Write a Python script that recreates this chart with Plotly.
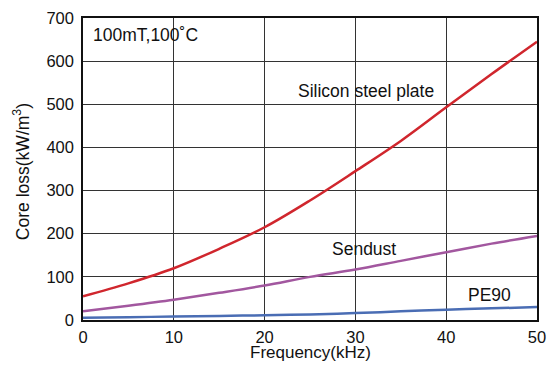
import plotly.graph_objects as go

freq = [0, 5, 10, 15, 20, 25, 30, 35, 40, 45, 50]
silicon = [55, 85, 120, 165, 215, 277, 345, 415, 493, 570, 645]
sendust = [20, 33, 47, 63, 80, 100, 117, 137, 157, 177, 195]
pe90 = [5, 6.5, 8, 9.5, 11, 13, 16, 20, 24, 27, 30]

x_ticks = [0, 10, 20, 30, 40, 50]
y_ticks = [0, 100, 200, 300, 400, 500, 600, 700]

font = "Liberation Sans, Arial, sans-serif"

fig = go.Figure()
fig.add_trace(go.Scatter(x=freq, y=silicon, mode="lines", line=dict(color="#d0262d", width=2.5, shape="spline")))
fig.add_trace(go.Scatter(x=freq, y=sendust, mode="lines", line=dict(color="#a2579f", width=2.5, shape="spline")))
fig.add_trace(go.Scatter(x=freq, y=pe90, mode="lines", line=dict(color="#4a6db4", width=2.5, shape="spline")))

annotations = [
    dict(x=0.85, y=661, text="100mT,100˚C", xanchor="left", yanchor="middle"),
    dict(x=31.2, y=530, text="Silicon steel plate", xanchor="center", yanchor="middle"),
    dict(x=30.9, y=165, text="Sendust", xanchor="center", yanchor="middle"),
    dict(x=44.8, y=58, text="PE90", xanchor="center", yanchor="middle"),
]
for a in annotations:
    a.update(xref="x", yref="y", showarrow=False, font=dict(family=font, size=17.5, color="#111"))

annotations.append(dict(xref="paper", yref="paper", x=0.5, y=-0.147, text="Frequency(kHz)",
                        showarrow=False, xanchor="center", yanchor="bottom",
                        font=dict(family=font, size=17, color="#111")))
annotations.append(dict(xref="paper", yref="paper", x=-0.135, y=0.492, text="Core loss(kW/m<sup>3</sup>)",
                        showarrow=False, xanchor="center", yanchor="middle", textangle=-90,
                        font=dict(family=font, size=17.5, color="#111")))

fig.update_layout(
    width=548, height=365,
    margin=dict(l=83, r=11, t=18, b=45),
    plot_bgcolor="white", paper_bgcolor="white",
    showlegend=False,
    font=dict(family=font, size=16.5, color="#111"),
    annotations=annotations,
    xaxis=dict(range=[0, 50], tickvals=x_ticks, showgrid=True, gridcolor="#333", gridwidth=1,
               showline=True, linecolor="#111", linewidth=1.5, mirror=True, zeroline=False,
               ticks="", tickfont=dict(size=16.5), automargin=False, ticklabelstandoff=1),
    yaxis=dict(range=[0, 700], tickvals=y_ticks, showgrid=True, gridcolor="#333", gridwidth=1,
               showline=True, linecolor="#111", linewidth=1.5, mirror=True, zeroline=False,
               ticks="", tickfont=dict(size=16.5), automargin=False, ticklabelstandoff=4),
)

fig.write_html("out.html", config={"displayModeBar": False},
               post_script="document.body.style.margin='0';document.body.style.overflow='hidden';")
